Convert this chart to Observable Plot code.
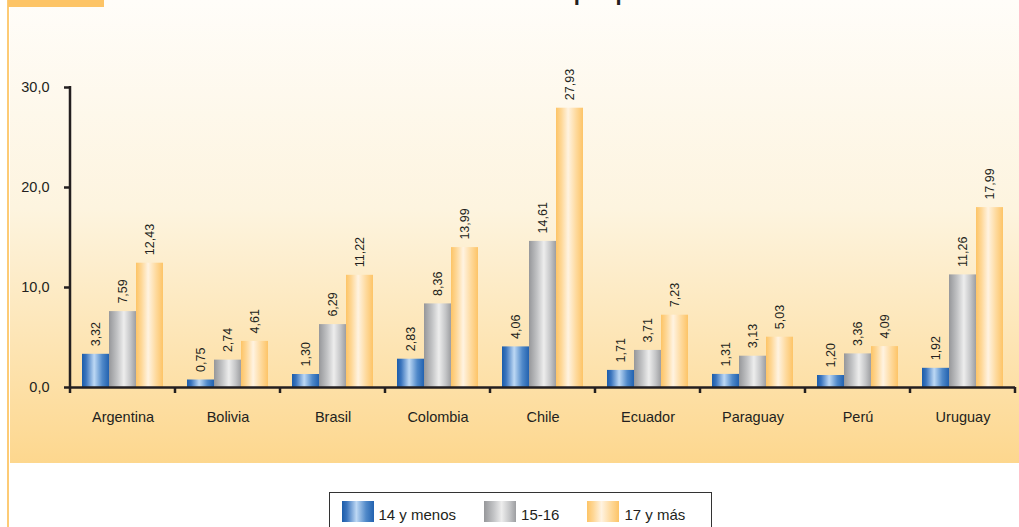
<!DOCTYPE html>
<html><head><meta charset="utf-8">
<script src="https://cdn.jsdelivr.net/npm/d3@7"></script>
<script src="https://cdn.jsdelivr.net/npm/@observablehq/plot@0.6"></script>
<style>
html,body{margin:0;padding:0;background:#fff;width:1019px;height:527px;overflow:hidden;font-family:"Liberation Sans",Arial,sans-serif;color:#231f20}
#wrap{position:relative;width:1019px;height:527px;overflow:hidden}
#panel{position:absolute;left:10px;top:0;width:1009px;height:463px;background:linear-gradient(to bottom,#fffdf9 0%,#fdf4df 45%,#fdd78e 100%)}
#vline{position:absolute;left:7px;top:0;width:2px;height:527px;background:#fdcb76}
#tab{position:absolute;left:8px;top:0;width:96px;height:7px;background:#fdc466}
#title{position:absolute;left:572px;top:-18px;transform:translateX(-50%);white-space:nowrap;font-weight:bold;font-size:22px;line-height:22px;color:#231f20}
#legend{position:absolute;left:329px;top:492px;width:383px;height:60px;border:1.5px solid #333;background:#fff;box-sizing:border-box;display:flex;align-items:flex-start;padding:7.5px 0 0 11.5px;gap:28px}
.item{display:flex;align-items:flex-start;gap:5px;font-size:15px;line-height:21px}
.sw{width:32px;height:21px}
.lab{padding-top:3px}
svg g[aria-label="y-axis tick"], svg g[aria-label="y-axis tick"] path{stroke-width:2.5px;stroke:#231f20}
</style>
</head><body>
<div id="wrap">
  <div id="panel"></div>
  <div id="vline"></div>
  <div id="tab"></div>
  <div id="title"></div>
  <div id="legend"></div>
</div>
<script>
const titleText = "de edad por país";
const countries = ["Argentina","Bolivia","Brasil","Colombia","Chile","Ecuador","Paraguay","Perú","Uruguay"];
const groups = ["14 y menos","15-16","17 y más"];
const v14 = [3.32,0.75,1.30,2.83,4.06,1.71,1.31,1.20,1.92];
const v1516 = [7.59,2.74,6.29,8.36,14.61,3.71,3.13,3.36,11.26];
const v17 = [12.43,4.61,11.22,13.99,27.93,7.23,5.03,4.09,17.99];
const yTicks = [0,10,20,30];
const gradIds = ["gBlue","gGray","gOrange"];
const gradStops = [
  [[0,"#1b5caa"],[0.15,"#3a74bd"],[0.45,"#bdd8f4"],[0.75,"#5089c9"],[1,"#2262b0"]],
  [[0,"#96979a"],[0.3,"#c2c3c5"],[0.55,"#ededed"],[0.8,"#c4c5c7"],[1,"#9d9ea1"]],
  [[0,"#fdc466"],[0.2,"#fed796"],[0.45,"#fff3e1"],[0.75,"#fed99b"],[1,"#fdc467"]]
];

document.getElementById("title").textContent = titleText;

const series = [v14, v1516, v17];
const data = countries.flatMap((c, i) => groups.map((g, j) => ({country: c, group: g, value: series[j][i]})));
const comma = (v, n) => v.toFixed(n).replace(".", ",");

const chart = Plot.plot({
  width: 1009, height: 463,
  marginLeft: 60, marginRight: 4, marginTop: 87, marginBottom: 76,
  style: {background: "transparent", fontFamily: "Liberation Sans, Arial, sans-serif", fontSize: "14.5px", color: "#231f20", overflow: "visible"},
  facet: {data, x: "country"},
  fx: {domain: countries, padding: 0, label: null, axis: "bottom", tickSize: 0, tickPadding: 24},
  x: {domain: groups, paddingInner: 0, paddingOuter: 0.4, axis: null},
  y: {domain: [0, 30], ticks: yTicks, tickFormat: d => comma(d, 1), label: null, tickSize: 6, tickPadding: 15},
  color: {domain: groups, range: gradIds.map(id => `url(#${id})`)},
  marks: [
    Plot.barY(data, {x: "group", y: "value", fill: "group"}),
    Plot.text(data, {x: "group", y: "value", text: d => comma(d.value, 2), rotate: -90, textAnchor: "start", lineAnchor: "middle", dy: -8, fontSize: 12.5, fill: "#231f20"}),
    Plot.ruleY([0], {stroke: "#231f20", strokeWidth: 2.5})
  ]
});

const svg = d3.select(chart);
const defs = svg.insert("defs", ":first-child");
gradIds.forEach((id, k) => {
  const lg = defs.append("linearGradient").attr("id", id).attr("x1", 0).attr("x2", 1).attr("y1", 0).attr("y2", 0);
  gradStops[k].forEach(([o, c]) => lg.append("stop").attr("offset", o).attr("stop-color", c));
});

// y-axis line and category separator ticks, from Plot's own scales
const fx = chart.scale("fx"), y = chart.scale("y");
const edges = countries.map(c => fx.apply(c)).concat([fx.apply(countries[countries.length - 1]) + fx.bandwidth]);
const y0 = y.apply(0), yTop = y.apply(30);
const g = svg.append("g").attr("stroke", "#231f20").attr("stroke-width", 2.5);
g.append("line").attr("x1", edges[0]).attr("x2", edges[0]).attr("y1", yTop - 1).attr("y2", y0 + 6);
edges.slice(1).forEach(x => g.append("line").attr("x1", x).attr("x2", x).attr("y1", y0).attr("y2", y0 + 6));

const wrap = document.getElementById("wrap");
chart.style.position = "absolute";
chart.style.left = "10px";
chart.style.top = "0px";
wrap.insertBefore(chart, document.getElementById("vline"));

// legend
const legend = document.getElementById("legend");
groups.forEach((gname, k) => {
  const item = document.createElement("div");
  item.className = "item";
  const sw = document.createElement("div");
  sw.className = "sw";
  sw.style.background = `linear-gradient(to right, ${gradStops[k].map(([o, c]) => `${c} ${o * 100}%`).join(", ")})`;
  const lab = document.createElement("div");
  lab.className = "lab";
  lab.textContent = gname;
  item.append(sw, lab);
  legend.append(item);
});
</script>
</body></html>
